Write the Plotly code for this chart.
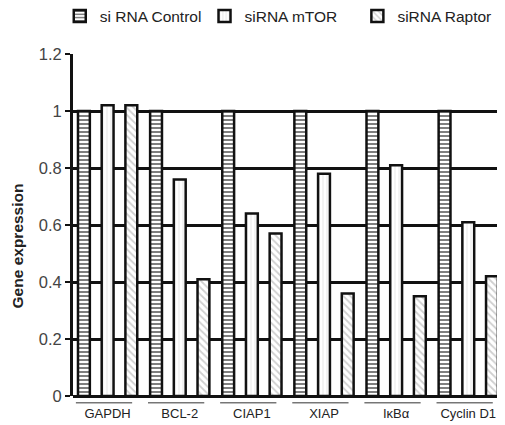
import plotly.graph_objects as go

categories = ["GAPDH", "BCL-2", "CIAP1", "XIAP", "IκBα", "Cyclin D1"]
control = [1.0, 1.0, 1.0, 1.0, 1.0, 1.0]
mtor = [1.02, 0.76, 0.64, 0.78, 0.81, 0.61]
raptor = [1.02, 0.41, 0.57, 0.36, 0.35, 0.42]
series_names = ["si RNA Control", "siRNA mTOR", "siRNA Raptor"]

FONT = "Liberation Sans, Arial, sans-serif"

fig = go.Figure()
fig.add_trace(go.Bar(
    x=categories, y=control, name=series_names[0], legend="legend",
    marker=dict(color="white", line=dict(color="#111", width=2.5),
                pattern=dict(shape="-", fgcolor="#000", bgcolor="white", size=4, solidity=0.5)),
))
fig.add_trace(go.Bar(
    x=categories, y=mtor, name=series_names[1], legend="legend2",
    marker=dict(color="white", line=dict(color="#111", width=2.5),
                pattern=dict(shape="|", fgcolor="#cfcfcf", bgcolor="white", size=4, solidity=0.25)),
))
fig.add_trace(go.Bar(
    x=categories, y=raptor, name=series_names[2], legend="legend3",
    marker=dict(color="white", line=dict(color="#111", width=2.5),
                pattern=dict(shape="\\", fgcolor="#a0a0a0", bgcolor="white", size=5, solidity=0.35)),
))

for i, _ in enumerate(categories):
    fig.add_shape(type="line", xref="x", yref="paper",
                  x0=i - 0.44, x1=i + 0.34, y0=-0.02, y1=-0.02,
                  line=dict(color="#333", width=1))

fig.add_annotation(
    text="<b>Gene expression</b>", textangle=-90, showarrow=False,
    xref="paper", yref="paper", x=-0.129, y=0.44, xanchor="center", yanchor="middle",
    font=dict(size=15.5, family=FONT, color="#222"),
)

legend_common = dict(orientation="h", xanchor="left", y=1.11, yanchor="middle",
                     font=dict(size=15.5, family=FONT, color="#222"),
                     bgcolor="rgba(0,0,0,0)")

fig.update_layout(
    width=497, height=417,
    margin=dict(l=65, r=5, t=46, b=29, autoexpand=False),
    paper_bgcolor="white", plot_bgcolor="white",
    barmode="group", bargap=0.014, bargroupgap=0.5,
    font=dict(family=FONT, color="#222"),
    showlegend=True,
    legend=dict(x=-0.031, **legend_common),
    legend2=dict(x=0.308, **legend_common),
    legend3=dict(x=0.666, **legend_common),
)
fig.update_xaxes(
    range=[-0.48, 5.44], showline=False, showgrid=False, zeroline=False,
    ticks="", tickfont=dict(size=13, family=FONT, color="#222"), ticklabelstandoff=8,
)
fig.update_yaxes(
    range=[0, 1.2], dtick=0.2, tick0=0,
    showgrid=True, gridcolor="#111", gridwidth=3,
    zeroline=True, zerolinecolor="#111", zerolinewidth=3,
    showline=True, linecolor="#111", linewidth=3,
    ticks="outside", ticklen=5, tickwidth=2, tickcolor="#111",
    tickfont=dict(size=16.5, family=FONT, color="#444"),
)

fig.write_html("out.html")
